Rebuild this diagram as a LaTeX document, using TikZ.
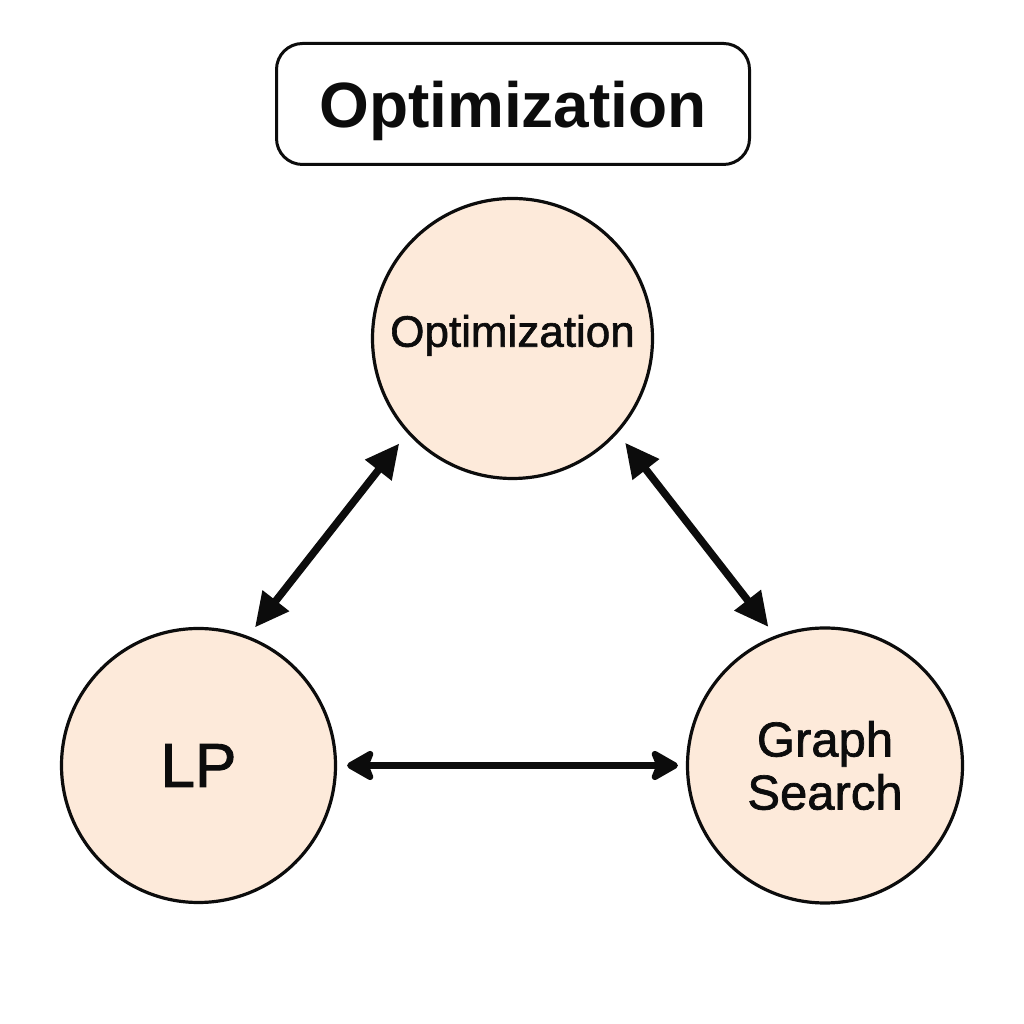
\documentclass[tikz,border=0pt]{standalone}
\usepackage{fontspec}
\setmainfont{Liberation Sans}
\newfontfamily\medfont[FakeBold=1.4]{Liberation Sans}
\usetikzlibrary{arrows.meta}
\definecolor{peach}{RGB}{253,234,218}
\definecolor{ink}{RGB}{12,12,12}
\tikzset{
  circ/.style={circle, draw=ink, line width=3.2pt, fill=peach, text=ink, inner sep=0pt},
  titlebox/.style={draw=ink, line width=3pt, rounded corners=26pt, fill=white,
    minimum width=473pt, minimum height=121pt, text=ink, inner sep=0pt,
    font=\bfseries\fontsize{64}{70}\selectfont, text depth=0pt},
  diagarr/.style={ink, line width=7.5pt, {Triangle[length=34pt,width=32pt]}-{Triangle[length=34pt,width=32pt]}},
  horarr/.style={ink, line width=7.5pt, {Stealth[length=32pt,width=36pt,inset=7pt,round]}-{Stealth[length=32pt,width=36pt,inset=7pt,round]}}
}
\begin{document}
\begin{tikzpicture}[x=1pt,y=1pt]
\useasboundingbox[fill=white] (0,0) rectangle (1024,1024);
\node[titlebox] (title) at (513,920) {Optimization};
\node[circ, minimum size=280pt, font=\medfont\fontsize{44}{50}\selectfont, text height=31.5pt, text depth=15pt] (top) at (512.5,685.5) {Optimization};
\node[circ, minimum size=274pt, font=\medfont\fontsize{62}{68}\selectfont, text depth=0pt] (lp) at (198.5,258.5) {LP};
\node[circ, minimum size=275pt, font=\medfont\fontsize{49}{53}\selectfont, align=center] (gs) at (825,258.5) {Graph\\Search};
\draw[diagarr, shorten <=13pt, shorten >=11pt] (top.222) -- (lp.69);
\draw[diagarr, shorten <=12pt, shorten >=11pt] (top.318) -- (gs.111);
\draw[horarr, shorten <=10pt, shorten >=8pt] (lp.0) -- (gs.180);
\end{tikzpicture}
\end{document}
